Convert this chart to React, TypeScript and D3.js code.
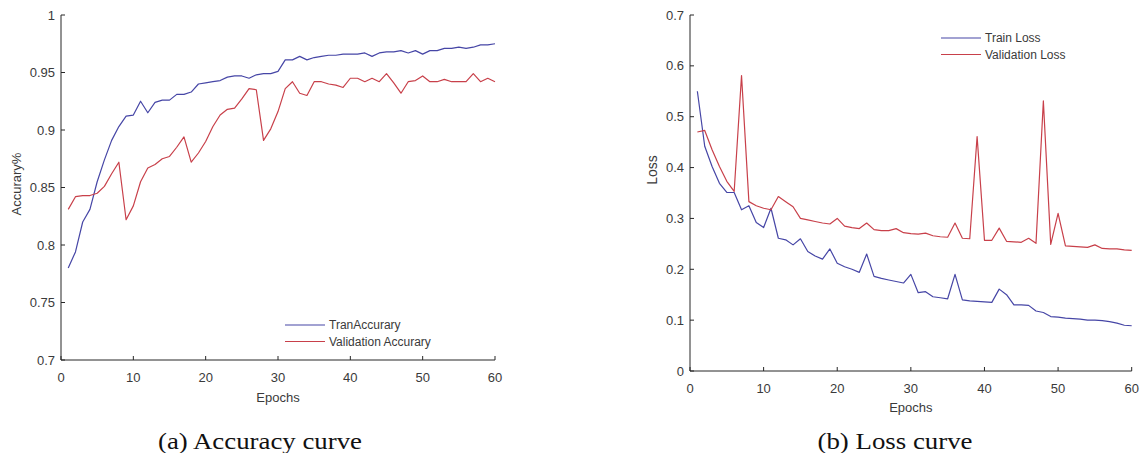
import React from "react";
import * as d3 from "d3";

// Training history, one value per epoch (1..60)
const epochs = d3.range(1, 61);

const trainAccuracy = [
  0.780, 0.794, 0.820, 0.831, 0.855, 0.874, 0.891, 0.903, 0.912, 0.913,
  0.925, 0.915, 0.924, 0.926, 0.926, 0.931, 0.931, 0.933, 0.940, 0.941,
  0.942, 0.943, 0.946, 0.947, 0.947, 0.945, 0.948, 0.949, 0.949, 0.951,
  0.961, 0.961, 0.964, 0.961, 0.963, 0.964, 0.965, 0.965, 0.966, 0.966,
  0.966, 0.967, 0.964, 0.967, 0.968, 0.968, 0.969, 0.967, 0.969, 0.966,
  0.969, 0.969, 0.971, 0.971, 0.972, 0.971, 0.972, 0.974, 0.974, 0.975,
];

const validationAccuracy = [
  0.831, 0.842, 0.843, 0.843, 0.845, 0.851, 0.862, 0.872, 0.822, 0.834,
  0.855, 0.867, 0.870, 0.875, 0.877, 0.885, 0.894, 0.872, 0.880, 0.890,
  0.903, 0.913, 0.918, 0.919, 0.927, 0.936, 0.935, 0.891, 0.901, 0.916,
  0.936, 0.942, 0.932, 0.930, 0.942, 0.942, 0.940, 0.939, 0.937, 0.945,
  0.945, 0.942, 0.945, 0.942, 0.949, 0.941, 0.932, 0.942, 0.943, 0.947,
  0.942, 0.942, 0.944, 0.942, 0.942, 0.942, 0.949, 0.942, 0.945, 0.942,
];

const trainLoss = [
  0.550, 0.442, 0.402, 0.369, 0.351, 0.351, 0.317, 0.325, 0.292, 0.282,
  0.320, 0.261, 0.258, 0.248, 0.260, 0.235, 0.226, 0.220, 0.240, 0.212,
  0.205, 0.200, 0.194, 0.230, 0.186, 0.182, 0.179, 0.176, 0.173, 0.190,
  0.154, 0.156, 0.146, 0.144, 0.142, 0.190, 0.140, 0.138, 0.137, 0.136,
  0.135, 0.161, 0.150, 0.130, 0.130, 0.129, 0.118, 0.115, 0.107, 0.106,
  0.104, 0.103, 0.102, 0.100, 0.100, 0.099, 0.097, 0.094, 0.090, 0.089,
];

const validationLoss = [
  0.470, 0.473, 0.435, 0.402, 0.373, 0.353, 0.581, 0.333, 0.325, 0.320,
  0.317, 0.343, 0.333, 0.323, 0.300, 0.297, 0.294, 0.291, 0.289, 0.300,
  0.285, 0.282, 0.280, 0.291, 0.278, 0.276, 0.276, 0.280, 0.272, 0.270,
  0.269, 0.271, 0.266, 0.264, 0.263, 0.291, 0.261, 0.260, 0.461, 0.257,
  0.257, 0.281, 0.255, 0.254, 0.253, 0.261, 0.251, 0.531, 0.249, 0.310,
  0.246, 0.245, 0.244, 0.243, 0.248, 0.241, 0.240, 0.240, 0.238, 0.237,
];

const epochTicks = [0, 10, 20, 30, 40, 50, 60];
const accuracyTicks = [0.7, 0.75, 0.8, 0.85, 0.9, 0.95, 1];
const accuracyTickLabels = ["0.7", "0.75", "0.8", "0.85", "0.9", "0.95", "1"];
const lossTicks = [0, 0.1, 0.2, 0.3, 0.4, 0.5, 0.6, 0.7];
const lossTickLabels = ["0", "0.1", "0.2", "0.3", "0.4", "0.5", "0.6", "0.7"];

const accuracyLegend = ["TranAccurary", "Validation Accurary"];
const lossLegend = ["Train Loss", "Validation Loss"];

const BLUE = "#4646a6";
const RED = "#c8404a";
const AXIS = "#262626";
const TEXT = "#3a3a3a";
const SANS = "'Liberation Sans', Arial, Helvetica, sans-serif";
const SERIF = "'Liberation Serif', 'Times New Roman', serif";

type PanelProps = {
  x0: number;
  x1: number;
  yTop: number;
  yBottom: number;
  yDomain: [number, number];
  yTicks: number[];
  yTickLabels: string[];
  yLabel: string;
  yLabelPos: [number, number];
  xTickLabelY: number;
  xLabelY: number;
  series: number[][];
  legend: string[];
  legendX: number;
  legendY: number;
  caption: string;
  captionX: number;
  captionWidth: number;
};

function Panel(p: PanelProps) {
  const x = d3.scaleLinear().domain([0, 60]).range([p.x0, p.x1]);
  const y = d3.scaleLinear().domain(p.yDomain).range([p.yBottom, p.yTop]);
  const line = d3
    .line<number>()
    .x((_, i) => x(epochs[i]))
    .y((d) => y(d));
  const colors = [BLUE, RED];
  const tick = 4;

  return (
    <g>
      {/* curves */}
      {p.series.map((s, k) => (
        <path
          key={k}
          d={line(s) || ""}
          fill="none"
          stroke={colors[k]}
          strokeWidth={1.2}
          strokeLinejoin="round"
        />
      ))}

      {/* axes */}
      <line x1={p.x0} x2={p.x0} y1={p.yTop} y2={p.yBottom} stroke={AXIS} strokeWidth={1} />
      <line x1={p.x0} x2={p.x1} y1={p.yBottom} y2={p.yBottom} stroke={AXIS} strokeWidth={1} />

      {p.yTicks.map((t, i) => (
        <g key={"y" + i}>
          <line x1={p.x0} x2={p.x0 + tick} y1={y(t)} y2={y(t)} stroke={AXIS} />
          <text
            x={p.x0 - 6}
            y={y(t)}
            dy="0.35em"
            textAnchor="end"
            fontFamily={SANS}
            fontSize={13}
            fill={TEXT}
          >
            {p.yTickLabels[i]}
          </text>
        </g>
      ))}

      {epochTicks.map((t) => (
        <g key={"x" + t}>
          <line x1={x(t)} x2={x(t)} y1={p.yBottom} y2={p.yBottom - tick} stroke={AXIS} />
          <text
            x={x(t)}
            y={p.xTickLabelY}
            dy="0.35em"
            textAnchor="middle"
            fontFamily={SANS}
            fontSize={13}
            fill={TEXT}
          >
            {t}
          </text>
        </g>
      ))}

      <text
        x={(p.x0 + p.x1) / 2}
        y={p.xLabelY}
        dy="0.35em"
        textAnchor="middle"
        fontFamily={SANS}
        fontSize={13}
        fill={TEXT}
      >
        Epochs
      </text>

      <text
        transform={`translate(${p.yLabelPos[0]},${p.yLabelPos[1]}) rotate(-90)`}
        dy="0.35em"
        textAnchor="middle"
        fontFamily={SANS}
        fontSize={p.yLabel === "Loss" ? 14 : 13}
        fill={TEXT}
      >
        {p.yLabel}
      </text>

      {/* legend */}
      {p.legend.map((name, k) => (
        <g key={name}>
          <line
            x1={p.legendX}
            x2={p.legendX + 40}
            y1={p.legendY + k * 16.5}
            y2={p.legendY + k * 16.5}
            stroke={colors[k]}
            strokeWidth={1.2}
          />
          <text
            x={p.legendX + 44}
            y={p.legendY + k * 16.5}
            dy="0.35em"
            fontFamily={SANS}
            fontSize={12}
            fill={TEXT}
          >
            {name}
          </text>
        </g>
      ))}

      <text
        x={p.captionX}
        y={449}
        textAnchor="middle"
        fontFamily={SERIF}
        fontSize={24}
        fill="#111"
        textLength={p.captionWidth}
        lengthAdjust="spacingAndGlyphs"
      >
        {p.caption}
      </text>
    </g>
  );
}

export default function App() {
  return (
    <svg
      width={1140}
      height={453}
      viewBox="0 0 1140 453"
      style={{ position: "absolute", left: 0, top: 0, background: "#fff" }}
    >
      <rect width={1140} height={453} fill="#fff" />
      <Panel
        x0={61}
        x1={495}
        yTop={15}
        yBottom={360}
        yDomain={[0.7, 1]}
        yTicks={accuracyTicks}
        yTickLabels={accuracyTickLabels}
        yLabel="Accurary%"
        yLabelPos={[16, 184]}
        xTickLabelY={377}
        xLabelY={397}
        series={[trainAccuracy, validationAccuracy]}
        legend={accuracyLegend}
        legendX={285}
        legendY={325}
        caption="(a) Accuracy curve"
        captionX={260}
        captionWidth={204}
      />
      <Panel
        x0={690}
        x1={1131.7}
        yTop={15}
        yBottom={371}
        yDomain={[0, 0.7]}
        yTicks={lossTicks}
        yTickLabels={lossTickLabels}
        yLabel="Loss"
        yLabelPos={[652, 170]}
        xTickLabelY={388}
        xLabelY={407}
        series={[trainLoss, validationLoss]}
        legend={lossLegend}
        legendX={941}
        legendY={38}
        caption="(b) Loss curve"
        captionX={895}
        captionWidth={155}
      />
    </svg>
  );
}
